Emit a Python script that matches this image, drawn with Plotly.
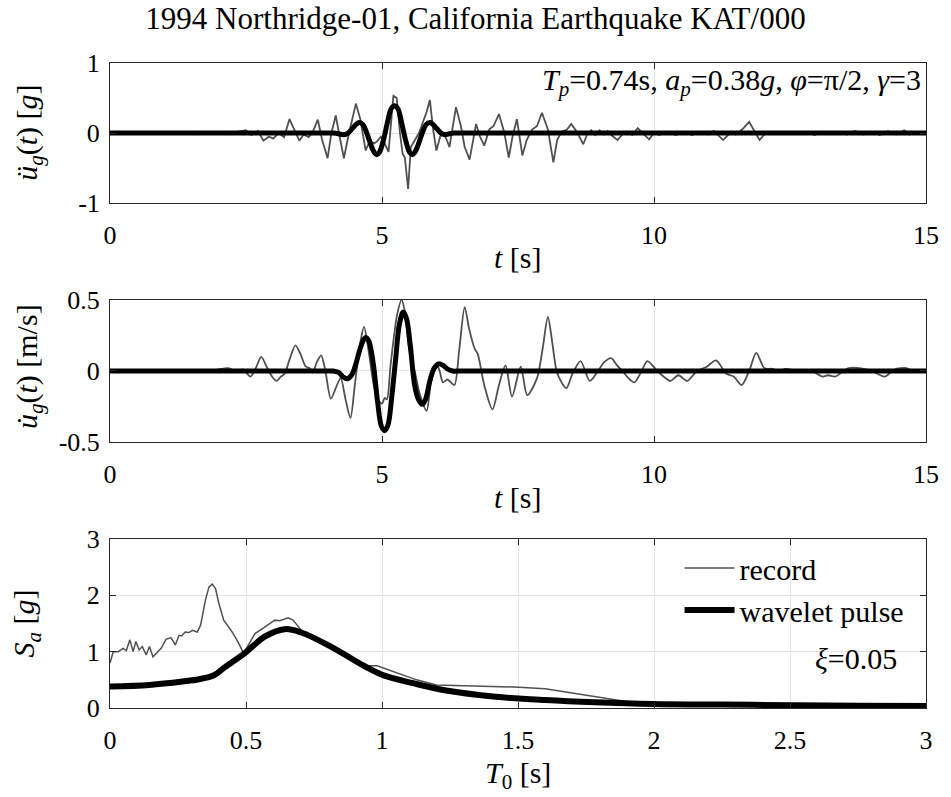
import plotly.graph_objects as go

# ---------------- data ----------------
# ground acceleration record [g]
acc_t = [0.0, 0.5, 0.8, 1.0, 1.2, 1.4, 1.6, 1.8, 2.0, 2.2, 2.35, 2.5, 2.6, 2.72, 2.82, 2.92, 3.0, 3.1, 3.2,
         3.3, 3.4, 3.48, 3.56, 3.65, 3.72, 3.82, 3.9, 4.0, 4.07, 4.15, 4.22, 4.30, 4.38, 4.45, 4.52, 4.6,
         4.70, 4.78, 4.85, 4.91, 4.98, 5.05, 5.12, 5.21, 5.27, 5.33, 5.38, 5.42, 5.48, 5.53, 5.61, 5.68,
         5.75, 5.82, 5.88, 5.94, 6.0, 6.07, 6.14, 6.24, 6.36, 6.45, 6.52, 6.61, 6.73, 6.8, 6.88, 6.97,
         7.05, 7.15, 7.25, 7.33, 7.40, 7.48, 7.58, 7.66, 7.76, 7.85, 7.94, 8.05, 8.15, 8.22, 8.30, 8.40,
         8.48, 8.58, 8.70, 8.78, 8.85, 8.92, 9.0, 9.08, 9.15, 9.23, 9.33, 9.42, 9.5, 9.6, 9.70, 9.8, 9.91,
         10.0, 10.1, 10.25, 10.4, 10.55, 10.7, 10.85, 11.0, 11.1, 11.27, 11.4, 11.5, 11.62, 11.75, 11.85,
         11.94, 12.05, 12.2, 12.35, 12.5, 12.65, 12.8, 12.95, 13.1, 13.25, 13.4, 13.55, 13.7, 13.85, 14.0,
         14.15, 14.3, 14.45, 14.6, 14.7, 14.8]
acc_rec = [0.0, 0.0, 0.01, -0.01, 0.015, -0.01, 0.02, -0.015, 0.01, -0.02, 0.02, 0.04, -0.03, 0.03, -0.11,
           -0.05, -0.08, 0.0, -0.06, 0.2, 0.02, -0.11, -0.02, -0.06, 0.0, 0.19, -0.1, -0.36, 0.0, 0.25,
           -0.05, -0.36, -0.05, 0.2, 0.42, 0.2, -0.25, -0.1, -0.15, -0.12, -0.05, -0.15, -0.27, 0.53, 0.5,
           0.0, -0.3, -0.35, -0.8, -0.2, -0.1, 0.0, 0.15, 0.3, 0.47, 0.05, -0.25, -0.05, 0.0, -0.2, 0.37,
           0.1, -0.2, -0.38, 0.13, -0.05, -0.18, 0.05, 0.1, 0.27, 0.0, -0.35, -0.05, 0.2, -0.32, -0.1, 0.05,
           0.1, 0.29, 0.05, -0.42, -0.1, 0.02, 0.05, 0.13, 0.02, -0.16, 0.0, 0.04, -0.03, 0.04, -0.02, 0.03,
           -0.04, -0.1, -0.02, 0.02, -0.03, 0.07, 0.0, -0.09, 0.0, -0.03, 0.02, -0.03, 0.02, -0.03, 0.02,
           -0.02, 0.03, -0.1, 0.0, -0.02, 0.05, 0.16, 0.02, -0.1, 0.0, 0.02, -0.02, 0.02, -0.02, 0.02, -0.03,
           0.02, -0.02, 0.02, -0.02, 0.03, -0.02, 0.02, -0.03, 0.03, -0.02, 0.04, -0.02, 0.0]

# wavelet pulse acceleration [g]
pacc_t = [0.0, 2.0, 4.0, 4.1, 4.2, 4.28, 4.36, 4.45, 4.52, 4.58, 4.65, 4.72, 4.80, 4.86, 4.90, 4.95, 5.02,
          5.10, 5.17, 5.23, 5.29, 5.36, 5.44, 5.51, 5.56, 5.60, 5.66, 5.74, 5.81, 5.88, 5.94, 6.01, 6.10,
          6.16, 6.24, 6.32, 6.45, 8.0, 10.0, 12.0, 15.0]
pacc = [0.0, 0.0, 0.0, 0.0, -0.01, -0.025, -0.01, 0.06, 0.12, 0.15, 0.12, 0.0, -0.18, -0.28, -0.31, -0.28,
        -0.12, 0.15, 0.35, 0.39, 0.35, 0.15, -0.12, -0.28, -0.31, -0.28, -0.18, 0.0, 0.12, 0.15, 0.12,
        0.06, -0.01, -0.025, -0.01, 0.0, 0.0, 0.0, 0.0, 0.0, 0.0]

# ground velocity record [m/s]
vel_t = [0.0, 1.5, 1.9, 2.18, 2.3, 2.45, 2.58, 2.68, 2.78, 2.88, 2.98, 3.06, 3.14, 3.21, 3.30, 3.41, 3.50,
         3.60, 3.67, 3.73, 3.80, 3.88, 3.95, 4.06, 4.15, 4.24, 4.33, 4.42, 4.50, 4.60, 4.67, 4.75, 4.85,
         4.93, 5.0, 5.05, 5.09, 5.16, 5.28, 5.36, 5.42, 5.50, 5.60, 5.70, 5.82, 5.90, 6.0, 6.06, 6.12,
         6.20, 6.24, 6.33, 6.42, 6.52, 6.60, 6.70, 6.76, 6.88, 7.03, 7.15, 7.27, 7.39, 7.55, 7.67, 7.85,
         7.95, 8.05, 8.13, 8.21, 8.30, 8.39, 8.50, 8.65, 8.82, 8.97, 9.08, 9.21, 9.32, 9.42, 9.53, 9.64,
         9.76, 9.88, 10.06, 10.18, 10.30, 10.45, 10.61, 10.79, 10.97, 11.14, 11.33, 11.47, 11.61, 11.75,
         11.88, 12.03, 12.18, 12.30, 12.42, 12.66, 12.9, 13.1, 13.2, 13.33, 13.58, 14.0, 14.24, 14.42,
         14.64, 14.75]
vel_rec = [0.0, 0.0, 0.005, 0.02, 0.0, 0.01, -0.04, 0.02, 0.10, 0.03, -0.04, -0.07, -0.04, -0.02, 0.08,
           0.18, 0.12, 0.03, 0.02, -0.01, 0.06, 0.11, 0.02, -0.195, -0.12, -0.05, -0.2, -0.33, -0.1, 0.2,
           0.31, 0.15, -0.1, -0.2, -0.23, -0.19, -0.2, 0.05, 0.4, 0.5, 0.42, 0.15, 0.0, -0.17, -0.28, -0.08,
           0.05, 0.0, -0.08, -0.06, -0.07, -0.1, 0.15, 0.45, 0.3, 0.16, 0.12, -0.1, -0.27, -0.1, 0.04, -0.18,
           0.03, -0.17, -0.05, 0.15, 0.38, 0.2, 0.0, -0.08, -0.12, -0.02, 0.07, -0.07, 0.0, 0.06, 0.09, 0.04,
           0.0, -0.05, -0.08, -0.01, 0.07, 0.0, -0.04, -0.07, -0.03, -0.07, 0.0, 0.03, 0.075, -0.02, -0.04,
           -0.1, 0.0, 0.127, 0.02, 0.015, 0.0, 0.015, 0.0, 0.0, -0.04, -0.03, -0.04, 0.02, 0.0, -0.04, 0.01,
           0.02, 0.0]

# wavelet pulse velocity [m/s]
pvel_t = [0.0, 2.0, 4.0, 4.1, 4.2, 4.28, 4.36, 4.44, 4.52, 4.60, 4.67, 4.71, 4.76, 4.84, 4.92, 4.99, 5.05,
          5.11, 5.18, 5.25, 5.32, 5.39, 5.45, 5.52, 5.60, 5.67, 5.74, 5.80, 5.88, 5.96, 6.04, 6.12, 6.20,
          6.30, 6.45, 8.0, 10.0, 12.0, 15.0]
pvel = [0.0, 0.0, 0.0, 0.0, -0.01, -0.04, -0.055, -0.03, 0.05, 0.16, 0.225, 0.235, 0.21, 0.05, -0.22,
        -0.39, -0.42, -0.38, -0.18, 0.08, 0.33, 0.415, 0.37, 0.18, -0.1, -0.2, -0.235, -0.2, -0.07, 0.02,
        0.05, 0.04, 0.015, 0.0, 0.0, 0.0, 0.0, 0.0, 0.0]

# response spectra [g]
T_rec = [0.0, 0.012, 0.03, 0.048, 0.06, 0.073, 0.085, 0.095, 0.107, 0.119, 0.133, 0.145, 0.158, 0.176,
         0.188, 0.206, 0.224, 0.240, 0.254, 0.264, 0.276, 0.29, 0.303, 0.321, 0.333, 0.351, 0.364, 0.376,
         0.388, 0.400, 0.418, 0.449, 0.473, 0.491, 0.509, 0.533, 0.570, 0.606, 0.624, 0.655, 0.673, 0.703,
         0.812, 0.933, 0.982, 1.055, 1.127, 1.2, 1.285, 1.358, 1.44, 1.503, 1.6, 1.709, 1.782, 1.903, 2.0,
         2.25, 2.5, 2.75, 3.0]
Sa_rec = [0.80, 1.0, 1.0, 1.06, 1.02, 1.21, 1.0, 1.18, 1.03, 1.09, 0.94, 1.09, 0.91, 1.0, 1.06, 1.22,
          1.25, 1.12, 1.29, 1.28, 1.35, 1.34, 1.38, 1.35, 1.47, 1.92, 2.15, 2.20, 2.12, 1.86, 1.56, 1.35,
          1.15, 0.97, 1.12, 1.32, 1.44, 1.56, 1.55, 1.60, 1.56, 1.38, 1.06, 0.75, 0.75, 0.63, 0.50, 0.41,
          0.40, 0.39, 0.37, 0.37, 0.34, 0.26, 0.20, 0.11, 0.08, 0.06, 0.05, 0.04, 0.035]
T_pul = [0.0, 0.145, 0.267, 0.327, 0.382, 0.424, 0.497, 0.570, 0.642, 0.703, 0.812, 0.933, 1.006, 1.115,
         1.236, 1.418, 1.6, 1.782, 2.0, 2.25, 2.51, 2.75, 3.0]
Sa_pul = [0.38, 0.41, 0.47, 0.51, 0.58, 0.73, 0.98, 1.27, 1.40, 1.34, 1.09, 0.75, 0.58, 0.44, 0.31, 0.20,
          0.14, 0.10, 0.07, 0.06, 0.05, 0.04, 0.035]

# tick labels
x_time_ticks = [0, 5, 10, 15]
y1_ticks, y1_text = [-1, 0, 1], ["-1", "0", "1"]
y2_ticks, y2_text = [-0.5, 0, 0.5], ["-0.5", "0", "0.5"]
x3_ticks, x3_text = [0, 0.5, 1, 1.5, 2, 2.5, 3], ["0", "0.5", "1", "1.5", "2", "2.5", "3"]
y3_ticks, y3_text = [0, 1, 2, 3], ["0", "1", "2", "3"]

# ---------------- figure ----------------
FONT = "Liberation Serif"
REC = "#505050"
FS_TICK = 26
FS = 30

fig = go.Figure()
fig.add_trace(go.Scatter(x=acc_t, y=acc_rec, mode="lines", line=dict(color=REC, width=1.8),
                         showlegend=False, xaxis="x", yaxis="y"))
fig.add_trace(go.Scatter(x=pacc_t, y=pacc, mode="lines", line=dict(color="black", width=5, shape="spline"),
                         showlegend=False, xaxis="x", yaxis="y"))
fig.add_trace(go.Scatter(x=vel_t, y=vel_rec, mode="lines", line=dict(color=REC, width=1.8, shape="spline",
                         smoothing=0.8), showlegend=False, xaxis="x2", yaxis="y2"))
fig.add_trace(go.Scatter(x=pvel_t, y=pvel, mode="lines", line=dict(color="black", width=5, shape="spline"),
                         showlegend=False, xaxis="x2", yaxis="y2"))
fig.add_trace(go.Scatter(x=T_rec, y=Sa_rec, mode="lines", name="record", line=dict(color=REC, width=1.5),
                         xaxis="x3", yaxis="y3"))
fig.add_trace(go.Scatter(x=T_pul, y=Sa_pul, mode="lines", name="wavelet pulse",
                         line=dict(color="black", width=6, shape="spline"), xaxis="x3", yaxis="y3"))

axis_common = dict(showline=True, linecolor="#262626", linewidth=1, mirror="ticks", ticks="inside",
                   ticklen=6, tickcolor="#262626", showgrid=True, gridcolor="#e3e3e3", gridwidth=1,
                   zeroline=False, tickfont=dict(family=FONT, size=FS_TICK, color="black"))

fig.update_layout(
    width=951, height=797,
    margin=dict(l=110, r=16, t=63, b=89),
    paper_bgcolor="white", plot_bgcolor="white",
    font=dict(family=FONT, color="black", size=FS),
    title=dict(text="1994 Northridge-01, California Earthquake KAT/000", x=0.5, xref="container",
               xanchor="center", y=0.9774, yanchor="middle", font=dict(family=FONT, size=31, color="black")),
    xaxis=dict(domain=[0, 1], anchor="y", range=[0, 15], tickvals=x_time_ticks,
               ticklabelstandoff=9, **axis_common),
    yaxis=dict(domain=[0.7829, 1.0], anchor="x", range=[-1, 1], tickvals=y1_ticks, ticktext=y1_text,
               ticklabelstandoff=4, **axis_common),
    xaxis2=dict(domain=[0, 1], anchor="y2", range=[0, 15], tickvals=x_time_ticks,
                ticklabelstandoff=9, **axis_common),
    yaxis2=dict(domain=[0.4124, 0.6326], anchor="x2", range=[-0.5, 0.5], tickvals=y2_ticks,
                ticktext=y2_text, ticklabelstandoff=4, **axis_common),
    xaxis3=dict(domain=[0, 1], anchor="y3", range=[0, 3], tickvals=x3_ticks, ticktext=x3_text,
                ticklabelstandoff=9, **axis_common),
    yaxis3=dict(domain=[0, 0.2620], anchor="x3", range=[0, 3], tickvals=y3_ticks, ticktext=y3_text,
                ticklabelstandoff=4, **axis_common),
    legend=dict(x=0.698, y=0.2574, xanchor="left", yanchor="top", bgcolor="rgba(0,0,0,0)",
                font=dict(family=FONT, size=FS, color="black"), tracegroupgap=0, itemwidth=50),
)

ann = [
    dict(text="<i>T<sub>p</sub></i>=0.74s, <i>a<sub>p</sub></i>=0.38<i>g</i>, <i>φ</i>=π/2, <i>γ</i>=3",
         x=0.996, y=0.9705, xanchor="right", yanchor="middle"),
    dict(text="<i>ξ</i>=0.05", x=0.967, y=0.0775, xanchor="right", yanchor="middle"),
    dict(text="<i>ü<sub>g</sub></i>(<i>t</i>) [<i>g</i>]", x=-0.0994, y=0.8915, textangle=-90,
         xanchor="center", yanchor="middle"),
    dict(text="<i>u̇<sub>g</sub></i>(<i>t</i>) [m/s]", x=-0.0994, y=0.53, textangle=-90,
         xanchor="center", yanchor="middle"),
    dict(text="<i>S<sub>a</sub></i> [<i>g</i>]", x=-0.103, y=0.131, textangle=-90,
         xanchor="center", yanchor="middle"),
    dict(text="<i>t</i> [s]", x=0.5, y=0.6977, xanchor="center", yanchor="middle"),
    dict(text="<i>t</i> [s]", x=0.5, y=0.3256, xanchor="center", yanchor="middle"),
    dict(text="<i>T</i><sub>0</sub> [s]", x=0.5, y=-0.1039, xanchor="center", yanchor="middle"),
]
for a in ann:
    fig.add_annotation(xref="paper", yref="paper", showarrow=False,
                       font=dict(family=FONT, size=FS, color="black"), **a)

fig.write_html("out.html", config={"displayModeBar": False},
               post_script="document.body.style.margin='0';")
